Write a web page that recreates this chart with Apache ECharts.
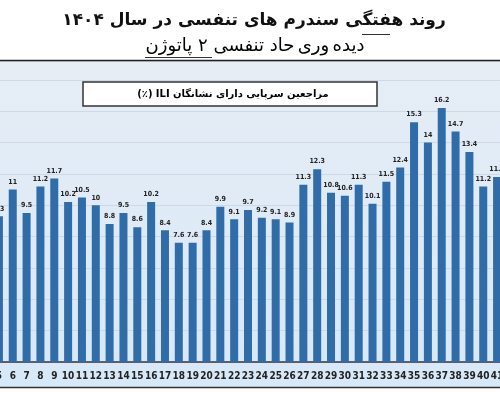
<!DOCTYPE html>
<html>
<head>
<meta charset="utf-8">
<script src="https://cdn.jsdelivr.net/npm/echarts@6/dist/echarts.min.js"></script>
<style>
  html, body { margin: 0; padding: 0; background: #fff; }
  #chart { width: 500px; height: 400px; }
</style>
</head>
<body>
<div id="chart"></div>
<script>
// هفته ها (فقط بخش دیده شده در تصویر)
var weeks = ['5','6','7','8','9','10','11','12','13','14','15','16','17','18','19','20','21','22','23',
             '24','25','26','27','28','29','30','31','32','33','34','35','36','37','38','39','40','41'];
// درصد مراجعین سرپایی دارای نشانگان ILI
var iliPercent = [9.3, 11, 9.5, 11.2, 11.7, 10.2, 10.5, 10, 8.8, 9.5, 8.6, 10.2, 8.4, 7.6, 7.6, 8.4, 9.9, 9.1, 9.7,
                  9.2, 9.1, 8.9, 11.3, 12.3, 10.8, 10.6, 11.3, 10.1, 11.5, 12.4, 15.3, 14, 16.2, 14.7, 13.4, 11.2, 11.8];

var faFont = 'DejaVu Sans';

var chart = echarts.init(document.getElementById('chart'));

var option = {
    backgroundColor: '#fff',
    animation: false,
    graphic: [
        // پس زمینه آبی روشن
        {
            type: 'rect', z: -10, silent: true,
            shape: { x: 0, y: 61, width: 500, height: 326 },
            style: {
                fill: new echarts.graphic.LinearGradient(0, 0, 0, 1, [
                    { offset: 0, color: '#e6edf5' },
                    { offset: 1, color: '#d7e8f8' }
                ])
            }
        },
        { type: 'line', z: 10, shape: { x1: 0, y1: 60.5, x2: 500, y2: 60.5 }, style: { stroke: '#222', lineWidth: 1.5 } },
        { type: 'line', z: 10, shape: { x1: 0, y1: 387.5, x2: 500, y2: 387.5 }, style: { stroke: '#333', lineWidth: 1.5 } },
        // عنوان
        {
            type: 'text', x: 254, y: 21,
            style: {
                text: 'روند هفتگی سندرم های تنفسی در سال ۱۴۰۴',
                font: 'bold 17px ' + faFont,
                fill: '#111',
                align: 'center', verticalAlign: 'middle'
            }
        },
        {
            type: 'text', x: 255, y: 46,
            style: {
                text: '{a|حاد تنفسی ۲ پاتوژن} {r|وری} {a|دیده}',
                align: 'center', verticalAlign: 'middle',
                rich: {
                    a: { fontSize: 18, fontFamily: faFont, color: '#111' },
                    r: { fontSize: 18, fontFamily: faFont, color: '#a0302a' }
                }
            }
        },
        // خط زیر کلمات
        { type: 'line', shape: { x1: 362, y1: 34.5, x2: 390, y2: 34.5 }, style: { stroke: '#333', lineWidth: 1 } },
        { type: 'line', shape: { x1: 145, y1: 57.5, x2: 212, y2: 57.5 }, style: { stroke: '#333', lineWidth: 1 } },
        // باکس راهنما
        {
            type: 'rect', z: 20,
            shape: { x: 83, y: 82, width: 294, height: 24 },
            style: { fill: '#fff', stroke: '#333', lineWidth: 1.5 }
        },
        {
            type: 'text', z: 21, x: 233, y: 94,
            style: {
                text: '{b|(٪)} {c|ILI} {b|دارای نشانگان} {c|سرپایی} {b|مراجعین}',
                align: 'center', verticalAlign: 'middle',
                rich: {
                    b: { fontSize: 10, fontWeight: 'bold', fontFamily: faFont, color: '#111' },
                    c: { fontSize: 10, fontWeight: 'bold', fontFamily: faFont, color: '#1e9db8' }
                }
            }
        }
    ],
    grid: {
        left: -8,
        right: -4,
        top: 61,
        bottom: 38,
        containLabel: false,
        outerBoundsMode: 'none'
    },
    xAxis: {
        type: 'category',
        data: weeks,
        axisLine: { lineStyle: { color: '#334', width: 1.5 } },
        axisTick: { show: false },
        axisLabel: {
            interval: 0,
            margin: 9,
            fontSize: 10,
            fontWeight: 'bold',
            fontFamily: 'DejaVu Sans Condensed',
            color: '#222'
        }
    },
    yAxis: {
        type: 'value',
        min: 0,
        max: 19.2,
        interval: 2,
        axisLabel: { show: false },
        axisLine: { show: false },
        axisTick: { show: false },
        splitLine: { lineStyle: { color: '#cdd9e6', width: 1 } }
    },
    series: [
        {
            name: 'ILI',
            type: 'bar',
            data: iliPercent,
            barWidth: 8,
            itemStyle: { color: '#2f6ca8' },
            label: {
                show: true,
                position: 'top',
                distance: 4,
                fontSize: 7,
                fontWeight: 'bold',
                fontFamily: 'DejaVu Sans Condensed',
                color: '#222'
            }
        }
    ]
};

chart.setOption(option);
</script>
</body>
</html>
